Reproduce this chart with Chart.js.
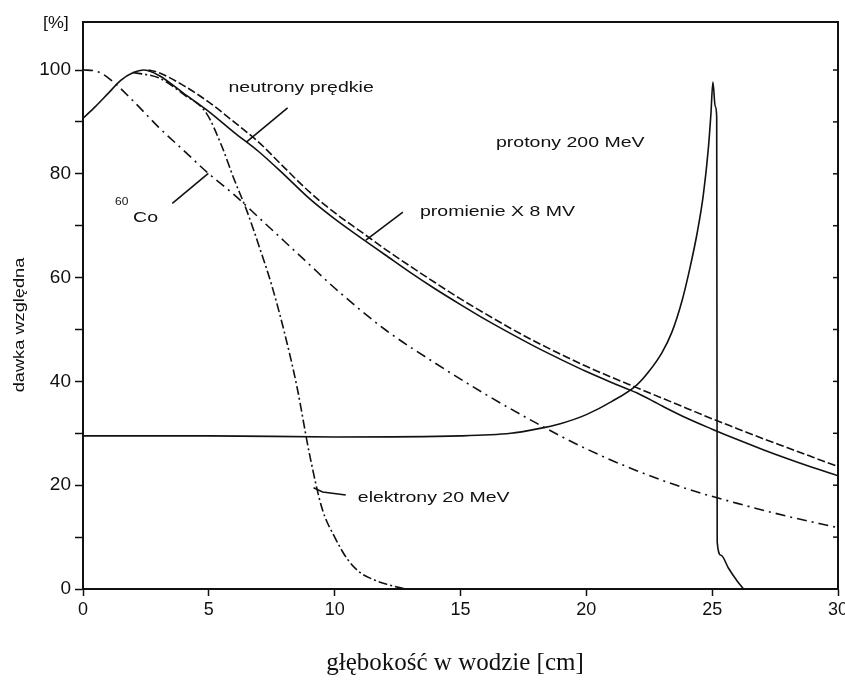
<!DOCTYPE html>
<html>
<head>
<meta charset="utf-8">
<script src="https://cdn.jsdelivr.net/npm/chart.js@4.4.0/dist/chart.umd.min.js"></script>
<style>
  html, body { margin: 0; padding: 0; background: #fff; }
</style>
</head>
<body>
<canvas id="myChart" width="845" height="680"></canvas>
<script>
// depth [cm] / relative dose [%]
const coDepth = [0, 0.5, 1, 2, 3, 4, 5, 6, 7, 8, 9, 10, 12, 14, 16, 18, 20, 22, 24, 26, 28, 30];
const coDose  = [100, 99.8, 98.5, 94, 89, 84.5, 80, 76, 71.5, 67, 62.5, 58, 50, 43.5, 37.5, 32, 27, 22.8, 19.3, 16.5, 14, 11.8];

const xrayDepth = [0, 0.5, 1, 1.5, 2, 2.4, 3, 4, 5, 6, 7, 8, 9, 10, 11, 12, 13, 14, 15, 16, 17, 18, 19, 20, 21, 22, 23, 24, 25, 26, 27, 28, 29, 30];
const xrayDose  = [90.7, 93, 95.5, 98, 99.5, 100, 99, 95.5, 92, 88, 84.2, 79.8, 75.2, 71.3, 67.8, 64.4, 61, 57.8, 54.8, 51.9, 49.2, 46.6, 44.2, 41.9, 39.8, 37.8, 35.3, 32.9, 30.8, 28.8, 26.9, 25.1, 23.4, 21.8];

const neutronDepth = [2.6, 3, 4, 5, 6, 7, 8, 9, 10, 11, 12, 13, 14, 15, 16, 17, 18, 19, 20, 21, 22, 23, 24, 25, 26, 27, 28, 29, 30];
const neutronDose  = [100, 99.5, 97, 93.8, 90, 86, 81.2, 76.5, 72.5, 69, 65.5, 62.2, 59, 55.9, 53, 50.2, 47.6, 45.2, 42.9, 40.8, 38.8, 36.8, 34.8, 32.8, 30.9, 29, 27.2, 25.4, 23.6];

const electronDepth = [2, 3, 4, 4.9, 5.5, 6, 6.5, 7, 7.5, 8, 8.5, 9, 9.5, 10, 10.5, 11, 11.5, 12, 12.8];
const electronDose  = [99.5, 98.5, 95.3, 91.7, 85.5, 79, 73, 66, 58.5, 49.5, 39, 26, 15.5, 10, 5.8, 3.2, 1.9, 1, 0];

const protonDepth = [0, 5, 10, 15, 17, 18, 19, 20, 21, 22, 22.5, 23, 23.4, 23.8, 24.1, 24.4, 24.65, 24.85, 24.95, 25.03, 25.12, 25.18, 25.2, 25.35, 25.65, 26, 26.25];
const protonDose  = [29.5, 29.5, 29.3, 29.5, 30, 30.8, 31.9, 33.6, 36.1, 39.3, 42, 45.5, 49.5, 55.5, 61.5, 68.5, 76, 85, 91.5, 97.7, 93, 91, 9, 6.5, 4, 1.5, 0];

const xTicks = [0, 5, 10, 15, 20, 25, 30];
const yTickLabels = [0, 20, 40, 60, 80, 100];

// text annotations (data coordinates of left edge / vertical middle)
const notes = [
  { text: 'neutrony prędkie', x: 5.78, y: 96.5 },
  { text: 'protony 200 MeV',  x: 16.41, y: 85.9 },
  { text: 'promienie X 8 MV', x: 13.39, y: 72.6 },
  { text: 'elektrony 20 MeV', x: 10.92, y: 17.6 },
  { text: 'Co', x: 1.99, y: 71.6 }
];
const leaders = [
  [[8.13, 92.7], [6.49, 86.1]],
  [[12.71, 72.6], [11.24, 67.2]],
  [[3.55, 74.3], [4.98, 80.1]],
  [[9.16, 19.5], [9.52, 18.7], [10.44, 18.1]]
];

const ink = '#111';

function series(depth, dose, dash) {
  return {
    data: depth.map((d, i) => ({ x: d, y: dose[i] })),
    borderColor: ink,
    borderWidth: 1.6,
    borderDash: dash,
    pointRadius: 0,
    fill: false,
    cubicInterpolationMode: 'monotone'
  };
}

function wideText(ctx, text, x, y, size, sx) {
  ctx.save();
  ctx.translate(x, y);
  ctx.scale(sx, 1);
  ctx.font = size + 'px "Liberation Sans", Arial, sans-serif';
  ctx.fillText(text, 0, 0);
  ctx.restore();
}

const extras = {
  id: 'extras',
  afterDatasetsDraw(chart) {
    const { ctx, chartArea: a, scales: { x, y } } = chart;
    const px = v => x.getPixelForValue(v);
    const py = v => y.getPixelForValue(v);
    ctx.save();
    ctx.strokeStyle = ink;
    ctx.fillStyle = ink;

    // frame
    ctx.lineWidth = 2;
    ctx.strokeRect(a.left, a.top, a.right - a.left, a.bottom - a.top);

    // small inward ticks on the right side
    ctx.lineWidth = 1.5;
    for (let v = 10; v <= 100; v += 10) {
      ctx.beginPath();
      ctx.moveTo(a.right, py(v));
      ctx.lineTo(a.right - 5, py(v));
      ctx.stroke();
    }

    // leader lines
    ctx.lineWidth = 1.6;
    leaders.forEach(l => {
      ctx.beginPath();
      l.forEach((p, i) => i ? ctx.lineTo(px(p[0]), py(p[1])) : ctx.moveTo(px(p[0]), py(p[1])));
      ctx.stroke();
    });

    // curve labels
    ctx.textBaseline = 'middle';
    ctx.textAlign = 'left';
    notes.forEach(n => wideText(ctx, n.text, px(n.x), py(n.y), 15, 1.3));
    wideText(ctx, '60', px(1.27), py(74.5), 10, 1.2);

    // axis captions
    wideText(ctx, '[%]', 43, 23, 17, 1.05);
    ctx.save();
    ctx.translate(20, 325);
    ctx.rotate(-Math.PI / 2);
    ctx.textAlign = 'center';
    wideText(ctx, 'dawka względna', 0, 0, 14, 1.3);
    ctx.restore();

    ctx.textAlign = 'center';
    ctx.font = '25px "Liberation Serif", "Times New Roman", serif';
    ctx.fillText('głębokość w wodzie [cm]', 455, 663);
    ctx.restore();
  }
};

new Chart('myChart', {
  type: 'line',
  data: {
    datasets: [
      series(coDepth, coDose, [10, 5, 2, 5]),
      series(xrayDepth, xrayDose, []),
      series(neutronDepth, neutronDose, [8, 3]),
      series(electronDepth, electronDose, [9, 3, 2, 3]),
      series(protonDepth, protonDose, [])
    ]
  },
  options: {
    responsive: false,
    animation: false,
    layout: { padding: { top: 22, right: 7, left: 0, bottom: 0 } },
    plugins: { legend: { display: false }, tooltip: { enabled: false } },
    scales: {
      x: {
        type: 'linear',
        min: 0,
        max: 30,
        afterFit: s => { s.height = 91; s.paddingRight = 0; s.paddingLeft = 0; },
        afterBuildTicks: s => { s.ticks = xTicks.map(v => ({ value: v })); },
        grid: { drawOnChartArea: false, tickLength: 7, tickWidth: 1.5, tickColor: ink },
        border: { color: ink, width: 2 },
        ticks: { color: ink, padding: 3, font: { family: '"Liberation Sans", Arial, sans-serif', size: 18 } }
      },
      y: {
        min: 0,
        max: 109.25,
        afterFit: s => { s.width = 83; },
        grid: { drawOnChartArea: false, tickLength: 8, tickWidth: 1.5, tickColor: ink },
        border: { color: ink, width: 2 },
        ticks: {
          stepSize: 10,
          includeBounds: false,
          padding: 4,
          color: ink,
          font: { family: '"Liberation Sans", Arial, sans-serif', size: 19 },
          callback: v => yTickLabels.includes(v) ? v : ''
        }
      }
    }
  },
  plugins: [extras]
});
</script>
</body>
</html>
